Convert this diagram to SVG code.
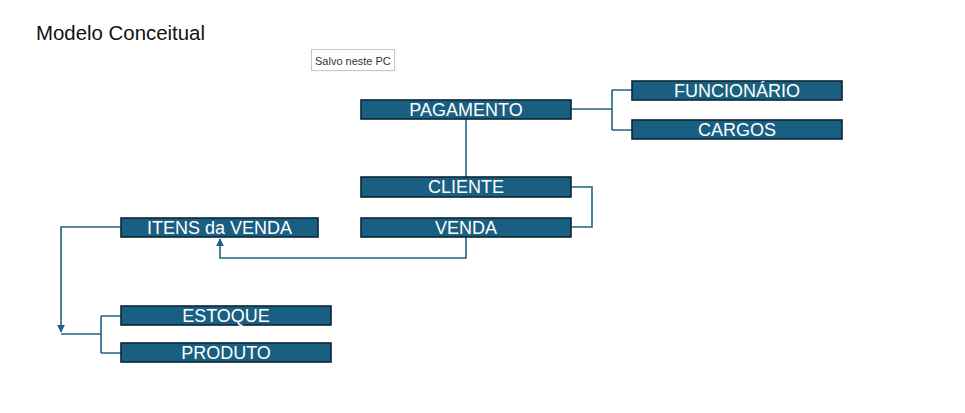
<svg xmlns="http://www.w3.org/2000/svg" width="965" height="413" viewBox="0 0 965 413">
<defs>
<style>
.box{fill:#195f82;stroke:#0c2636;stroke-width:1.6}
.lbl{fill:#ffffff;font-family:"Liberation Sans",Arial,sans-serif;font-size:18px;text-anchor:middle}
.con{fill:none;stroke:#1d6285;stroke-width:1.6}
</style>
<marker id="arr" viewBox="0 0 10 10" refX="9" refY="5" markerWidth="5" markerHeight="5" orient="auto">
<path d="M0,0 L10,5 L0,10 z" fill="#1d6285"/>
</marker>
</defs>
<rect width="965" height="413" fill="#ffffff"/>
<text x="36" y="40" font-family="Liberation Sans,Arial,sans-serif" font-size="20.5" fill="#111" textLength="169" lengthAdjust="spacingAndGlyphs">Modelo Conceitual</text>
<g id="tooltip">
<rect x="312.5" y="50.5" width="83" height="21" fill="#e6e6e6" opacity="0.6"/>
<rect x="311.5" y="49.5" width="83" height="21" fill="#ffffff" stroke="#c8c8c8"/>
<text x="315" y="65" font-family="Liberation Sans,Arial,sans-serif" font-size="11" fill="#333">Salvo neste PC</text>
</g>
<g id="connectors">
<path class="con" d="M571,109 H612 M612,90 V130 M612,90 H632 M612,130 H632"/>
<path class="con" d="M466,119 V177"/>
<path class="con" d="M571,187 H592 V227 H571"/>
<path class="con" d="M466,237 V258 H220 V239" marker-end="url(#arr)"/>
<path class="con" d="M121,227 H61 V332" marker-end="url(#arr)"/>
<path class="con" d="M61,334 H101 M101,316 V353 M101,316 H121 M101,353 H121"/>
</g>
<g id="pagamento"><rect class="box" x="361" y="100" width="210" height="19"/><text class="lbl" x="466" y="116">PAGAMENTO</text></g>
<g id="funcionario"><rect class="box" x="632" y="81" width="210" height="19"/><text class="lbl" x="737" y="97">FUNCIONÁRIO</text></g>
<g id="cargos"><rect class="box" x="632" y="120" width="210" height="19"/><text class="lbl" x="737" y="136">CARGOS</text></g>
<g id="cliente"><rect class="box" x="361" y="177" width="210" height="20"/><text class="lbl" x="466" y="193">CLIENTE</text></g>
<g id="venda"><rect class="box" x="361" y="218" width="210" height="19"/><text class="lbl" x="466" y="234">VENDA</text></g>
<g id="itens"><rect class="box" x="121" y="218" width="197" height="19"/><text class="lbl" x="219.5" y="234">ITENS da VENDA</text></g>
<g id="estoque"><rect class="box" x="121" y="306" width="210" height="19"/><text class="lbl" x="226" y="322">ESTOQUE</text></g>
<g id="produto"><rect class="box" x="121" y="343" width="210" height="19"/><text class="lbl" x="226" y="359">PRODUTO</text></g>
</svg>
